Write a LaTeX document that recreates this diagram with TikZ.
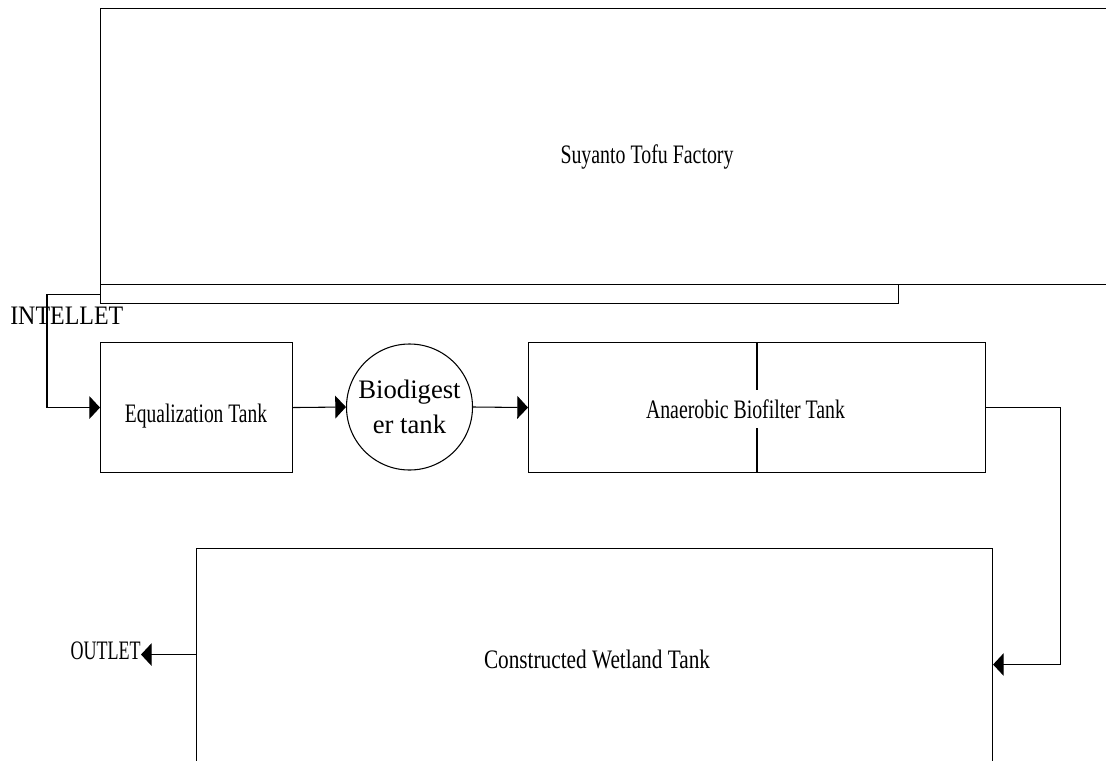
\documentclass[tikz,border=0pt]{standalone}
\usepackage{graphicx}
\usepackage{fontspec}
\setmainfont{Liberation Serif}
\usetikzlibrary{arrows.meta}
\begin{document}
\begin{tikzpicture}[x=0.75pt,y=-0.75pt,
  every node/.style={font=\fontsize{20}{26}\selectfont},
  box/.style={draw,line width=0.8pt,inner sep=0pt,anchor=north west},
  lbl/.style={inner sep=0pt,anchor=base},
  flow/.style={draw,line width=0.8pt,-{Triangle[length=8pt,width=17pt]}}]
\useasboundingbox (0,0) rectangle (1106,760);
% boxes
\node[box,minimum width=780pt,minimum height=207pt] (factory) at (100,8) {};
\node[box,minimum width=598.5pt,minimum height=14.25pt] (strip) at (100,284) {};
\node[box,minimum width=144pt,minimum height=97.5pt] (eq) at (100,342) {};
\node[circle,draw,line width=0.8pt,minimum size=94.5pt,inner sep=0pt,align=center] (bio) at (409.5,407) {Biodigest\\er tank};
\node[box,minimum width=342.75pt,minimum height=97.5pt] (ana) at (528,342) {};
\draw[line width=0.8pt] (ana.north west) ++(229,0) coordinate (divtop) -- (divtop |- ana.south) coordinate (divbot);
\node[box,minimum width=597pt,minimum height=174pt] (wet) at (196,548) {};
% labels
\node[lbl] (factorylbl) at (647,163) {\resizebox{129.75pt}{\height}{Suyanto Tofu Factory}};
\node[lbl] (eqlbl) at (196,422) {\resizebox{106.5pt}{\height}{Equalization Tank}};
\node[lbl,fill=white,inner xsep=2pt,inner ysep=7pt] (analbl) at (745.5,418) {\resizebox{149.25pt}{\height}{Anaerobic Biofilter Tank}};
\node[lbl] (wetlbl) at (597,668) {\resizebox{169.5pt}{\height}{Constructed Wetland Tank}};
\node[inner sep=0pt,anchor=west] (inlet) at (10,316) {\resizebox{84.75pt}{\height}{INTELLET}};
\node[inner sep=0pt,anchor=east] (outlet) at (141,651) {\resizebox{52.5pt}{\height}{OUTLET}};
% connectors
\draw[flow] (strip.west) -- ++(-53,0) |- (eq.west);
\draw[flow] (eq.east) -- (bio.west);
\draw[flow] (bio.east) -- (ana.west);
\draw[flow] (ana.east) -- ++(74,0) |- (wet.east);
\draw[flow] ([yshift=7.5pt]wet.west) -- ([yshift=7.5pt]wet.west -| outlet.east);
\end{tikzpicture}
\end{document}
